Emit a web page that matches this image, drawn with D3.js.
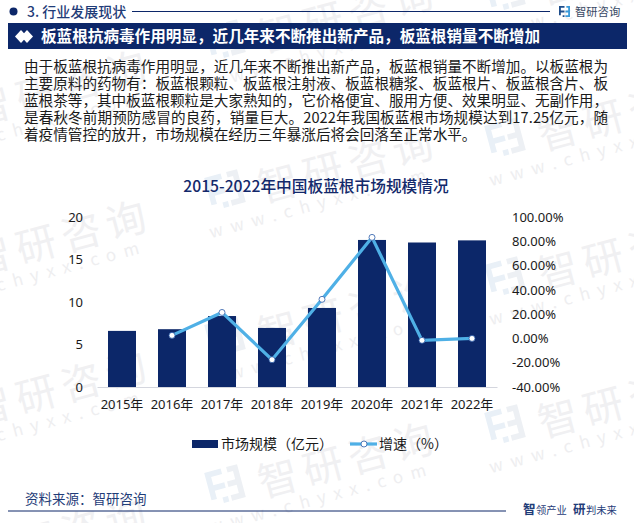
<!DOCTYPE html>
<html>
<head>
<meta charset="utf-8">
<script src="https://cdn.jsdelivr.net/npm/d3@7"></script>
<style>
  html, body { margin: 0; padding: 0; background: #fff; }
  svg { display: block; }
  text { font-family: "Noto Sans CJK SC", sans-serif; }
  .tick text { font-family: "Noto Sans", "Noto Sans CJK SC", sans-serif; font-size: 13px; fill: #1a1a1a; }
</style>
</head>
<body>
<svg width="634" height="523"></svg>
<script>
const years   = ["2015年", "2016年", "2017年", "2018年", "2019年", "2020年", "2021年", "2022年"];
const market  = [6.6, 6.8, 8.35, 6.95, 9.3, 17.3, 17.0, 17.25];
const growth  = [null, 2.5, 21.4, -17.5, 32.2, 83.2, -1.6, 0.0];
const leftTicks  = [0, 5, 10, 15, 20];
const rightTicks = [-40, -20, 0, 20, 40, 60, 80, 100];

const headerText = "3. 行业发展现状";
const bannerText = "板蓝根抗病毒作用明显，近几年来不断推出新产品，板蓝根销量不断增加";
const bodyLines  = [
  "由于板蓝根抗病毒作用明显，近几年来不断推出新产品，板蓝根销量不断增加。以板蓝根为",
  "主要原料的药物有：板蓝根颗粒、板蓝根注射液、板蓝根糖浆、板蓝根片、板蓝根含片、板",
  "蓝根茶等，其中板蓝根颗粒是大家熟知的，它价格便宜、服用方便、效果明显、无副作用，",
  "是春秋冬前期预防感冒的良药，销量巨大。2022年我国板蓝根市场规模达到17.25亿元，随",
  "着疫情管控的放开，市场规模在经历三年暴涨后将会回落至正常水平。"
];
const chartTitle = "2015-2022年中国板蓝根市场规模情况";
const sourceText = "资料来源：智研咨询";

const navy = "#0c2769", sky = "#4fb0e6";
const svg = d3.select("svg");

drawWatermarks();
drawHeader();
drawChart();
drawFooter();


function drawLogo(g, size, c1, c2) {
  // little bracket mark, drawn in a 12x12 box
  let s = size / 12,
      m = g.append("g").attr("transform", `scale(${s})`);
  m.append("path").attr("fill", c1)
    .attr("d", "M0,0H6V2H2V5H6V7H2V10H0Z M4,10H6V12H4Z");
  m.append("path").attr("fill", c2)
    .attr("d", "M8,0H12V12H7V10H10V7H7V5H10V2H8Z");
}

function drawWatermarks() {
  let units = [[-62, 113], [-62, 263], [-62, 413], [-62, 560],
               [225, 40],  [225, 190], [225, 337], [225, 485],
               [505, -8],  [505, 138], [505, 277], [505, 425]];

  let wm = svg.append("g").selectAll("g")
    .data(units)
    .enter().append("g")
      .attr("transform", d => `translate(${d[0]},${d[1]}) rotate(-15)`);

  wm.each(function() {
    let g = d3.select(this).append("g").attr("transform", "translate(-17,-17)");
    drawLogo(g, 34, "#e9f0f7", "#edf0f4");
  });

  wm.append("text")
    .attr("x", 33)
    .attr("y", 22)
    .attr("font-size", 40)
    .attr("letter-spacing", 6.5)
    .attr("fill", "#f0f0f2")
    .text("智研咨询");

  wm.append("text")
    .attr("x", -26)
    .attr("y", 43)
    .attr("font-size", 17)
    .attr("font-family", "Noto Sans")
    .attr("letter-spacing", 8)
    .attr("fill", "#eeeef0")
    .text("www.chyxx.com");
}

function drawHeader() {
  svg.append("circle")
    .attr("cx", 13.5).attr("cy", 11.5).attr("r", 4)
    .attr("fill", navy);

  svg.append("text")
    .attr("x", 27).attr("y", 17)
    .attr("font-size", 14)
    .attr("font-weight", 500)
    .attr("fill", "#1f3c78")
    .text(headerText);

  svg.append("line")
    .attr("x1", 132).attr("x2", 550)
    .attr("y1", 11.5).attr("y2", 11.5)
    .attr("stroke", navy);

  let logo = svg.append("g").attr("transform", "translate(559,6)");
  drawLogo(logo, 11, "#1f4e8c", "#3a9ad9");

  svg.append("text")
    .attr("x", 575).attr("y", 16)
    .attr("font-size", 11.3)
    .attr("fill", "#3a4a66")
    .text("智研咨询");

  svg.append("rect")
    .attr("x", 8).attr("y", 23)
    .attr("width", 619).attr("height", 26)
    .attr("fill", navy);

  svg.selectAll(".diamond")
    .data([21, 27])
    .enter().append("path")
      .attr("class", "diamond")
      .attr("transform", d => `translate(${d},36.5)`)
      .attr("d", "M-6,0L0,-6.5L6,0L0,6.5Z")
      .attr("fill", "#fff");

  svg.append("text")
    .attr("x", 41).attr("y", 42)
    .attr("font-size", 15.6)
    .attr("font-weight", 700)
    .attr("fill", "#fff")
    .text(bannerText);

  svg.selectAll(".body-line")
    .data(bodyLines)
    .enter().append("text")
      .attr("class", "body-line")
      .attr("x", 24)
      .attr("y", (d, i) => 71.6 + i * 17.1)
      .attr("font-size", 14.6)
      .attr("fill", "#1a1a1a")
      .attr("textLength", (d, i) => i < 4 ? 584 : null)
      .attr("lengthAdjust", "spacing")
      .text(d => d);
}

function drawChart() {
  let x = d3.scaleBand()
        .domain(years)
        .range([97, 497])
        .paddingInner(0.44)
        .paddingOuter(0.22),
      yLeft = d3.scaleLinear()
        .domain([0, 20])
        .range([387, 217]),
      yRight = d3.scaleLinear()
        .domain([-40, 100])
        .range([387, 217]);

  svg.append("text")
    .attr("x", 316).attr("y", 191.5)
    .attr("text-anchor", "middle")
    .attr("font-size", 15.7)
    .attr("font-weight", 500)
    .attr("fill", "#13296b")
    .text(chartTitle);

  svg.append("g")
    .attr("transform", "translate(83,0)")
    .call(d3.axisLeft(yLeft).tickValues(leftTicks).tickSize(0).tickPadding(0))
    .call(g => g.select(".domain").remove());

  svg.append("g")
    .attr("transform", "translate(512,0)")
    .call(d3.axisRight(yRight).tickValues(rightTicks).tickSize(0).tickPadding(0)
      .tickFormat(d => d.toFixed(2) + "%"))
    .call(g => g.select(".domain").remove());

  svg.selectAll(".bar")
    .data(market)
    .enter().append("rect")
      .attr("class", "bar")
      .attr("x", (d, i) => x(years[i]))
      .attr("y", d => yLeft(d))
      .attr("width", x.bandwidth())
      .attr("height", d => yLeft(0) - yLeft(d))
      .attr("fill", navy);

  let xAxis = svg.append("g")
    .attr("transform", "translate(0,387)")
    .call(d3.axisBottom(x).tickSize(0).tickPadding(13));
  xAxis.select(".domain").attr("stroke", "#d4d6de");

  let points = growth.map((d, i) => ({year: years[i], value: d}))
                     .filter(d => d.value !== null),
      line = d3.line()
        .x(d => x(d.year) + x.bandwidth() / 2)
        .y(d => yRight(d.value));

  svg.append("path")
    .datum(points)
    .attr("d", line)
    .attr("fill", "none")
    .attr("stroke", sky)
    .attr("stroke-width", 3.2);

  svg.selectAll(".dot")
    .data(points)
    .enter().append("circle")
      .attr("class", "dot")
      .attr("cx", d => x(d.year) + x.bandwidth() / 2)
      .attr("cy", d => yRight(d.value))
      .attr("r", 3)
      .attr("fill", "#fff")
      .attr("stroke", "#2a5aa8")
      .attr("stroke-width", 0.8);

  // legend
  svg.append("rect")
    .attr("x", 192).attr("y", 440)
    .attr("width", 26).attr("height", 8)
    .attr("fill", navy);

  svg.append("text")
    .attr("x", 221).attr("y", 449)
    .attr("font-size", 14)
    .attr("fill", "#1a1a1a")
    .text("市场规模（亿元）");

  svg.append("line")
    .attr("x1", 350).attr("x2", 377)
    .attr("y1", 444).attr("y2", 444)
    .attr("stroke", sky)
    .attr("stroke-width", 3.2);

  svg.append("circle")
    .attr("cx", 364).attr("cy", 444).attr("r", 3)
    .attr("fill", "#fff")
    .attr("stroke", "#2a5aa8")
    .attr("stroke-width", 0.8);

  svg.append("text")
    .attr("x", 379).attr("y", 449)
    .attr("font-size", 14)
    .attr("fill", "#1a1a1a")
    .text("增速（%）");
}

function drawFooter() {
  svg.append("text")
    .attr("x", 25).attr("y", 504)
    .attr("font-size", 13.5)
    .attr("fill", "#1f3c78")
    .text(sourceText);

  svg.append("line")
    .attr("x1", 8).attr("x2", 506)
    .attr("y1", 511).attr("y2", 511)
    .attr("stroke", navy);

  let slogan = [
    {t: "智", x: 523, s: 12.5, w: 700},
    {t: "领产业", x: 536, s: 10.3, w: 400},
    {t: "研", x: 573, s: 12.5, w: 700},
    {t: "判未来", x: 586, s: 10.3, w: 400}
  ];

  svg.selectAll(".slogan")
    .data(slogan)
    .enter().append("text")
      .attr("class", "slogan")
      .attr("x", d => d.x)
      .attr("y", 514)
      .attr("font-size", d => d.s)
      .attr("font-weight", d => d.w)
      .attr("fill", "#1f3c78")
      .text(d => d.t);
}
</script>
</body>
</html>
